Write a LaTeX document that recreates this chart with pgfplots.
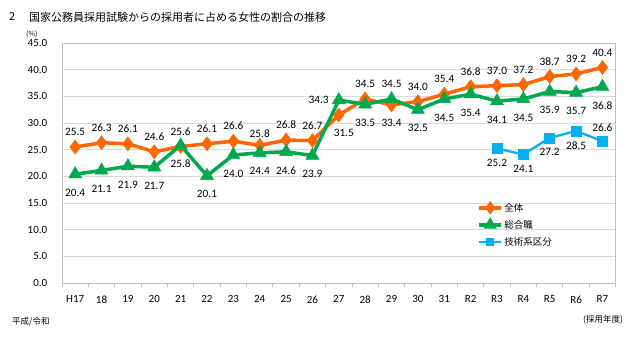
\documentclass[border=0pt]{standalone}
\usepackage{pgfplots}
\pgfplotsset{compat=1.18}
\usepackage{fontspec}
\setmainfont{Carlito}
\newfontfamily\jp{Noto Sans CJK JP}
\definecolor{cOr}{HTML}{FF6600}
\definecolor{cGr}{HTML}{00A84F}
\definecolor{cBl}{HTML}{00B0F0}
\definecolor{cGrid}{HTML}{D9D9D9}
\definecolor{cAx}{HTML}{BFBFBF}

\pgfplotsset{
  lab/.style n args={3}{forget plot, draw=none, mark=none,
    nodes near coords={\pgfmathprintnumber[fixed,fixed zerofill,precision=1,assume math mode=true]{\pgfplotspointmeta}},
    every node near coord/.append style={font=\fontsize{11.3}{13}\selectfont, text=black, inner sep=0pt, anchor=#1, xshift=#2, yshift=#3}},
}

\begin{document}
\begin{tikzpicture}[x=1pt,y=1pt]
\useasboundingbox (0,0) rectangle (640,352);
\node[anchor=west,font=\jp\fontsize{11}{13}\selectfont,inner sep=0] at (9,335) {2};
\node[anchor=west,font=\jp\fontsize{11}{13}\selectfont,inner sep=0] at (29,335) {国家公務員採用試験からの採用者に占める女性の割合の推移};
\node[anchor=west,font=\jp\fontsize{7}{8}\selectfont,inner sep=0] at (26,318) {(\%)};
\node[anchor=west,font=\jp\fontsize{8.5}{10}\selectfont,inner sep=0] at (12,30) {平成/令和};
\node[anchor=west,font=\jp\fontsize{8.5}{10}\selectfont,inner sep=0] at (583,32) {(採用年度)};
\begin{axis}[
  at={(62pt,69pt)}, anchor=south west,
  scale only axis, width=553.6pt, height=240pt,
  xmin=-0.5, xmax=20.5, ymin=0, ymax=45,
  xtick={0,...,20},
  xticklabels={H17,18,19,20,21,22,23,24,25,26,27,28,29,30,31,R2,R3,R4,R5,R6,R7},
  minor xtick={-0.5,0.5,...,20.5},
  major x tick style={draw=none},
  minor x tick style={cAx, line width=0.8pt},
  minor tick length=4pt,
  xtick pos=bottom, tick align=outside,
  ytick={0,5,...,45},
  ytick style={draw=none},
  ymajorgrids, grid style={cGrid, line width=0.9pt},
  axis line style={cAx, line width=0.9pt},
  /pgf/number format/assume math mode=true,
  yticklabel style={/pgf/number format/fixed, /pgf/number format/fixed zerofill, /pgf/number format/precision=1},
  yticklabel style={font=\fontsize{11}{12}\selectfont, xshift=-7pt},
  xticklabel style={font=\fontsize{11}{12}\selectfont, yshift=-5pt},
  clip=false,
  legend style={draw=none, fill=none, at={(0.750,0.340)}, anchor=north west,
    font=\jp\fontsize{9.5}{11}\selectfont, row sep=4.5pt, inner sep=0pt,
    nodes={inner sep=1.5pt}},
  legend cell align=left,
  legend image code/.code={
    \draw[#1, mark=none] (0pt,0pt) -- (22pt,0pt);
    \path[#1, mark options={scale=0.55}] plot coordinates {(11pt,0pt)};},
]
% 全体
\addplot[cOr, line width=3.5pt, mark=diamond*, mark size=7pt, mark options={solid, line width=0.5pt, fill=cOr}] coordinates {
(0,25.5) (1,26.3) (2,26.1) (3,24.6) (4,25.6) (5,26.1) (6,26.6) (7,25.8) (8,26.8) (9,26.7)
(10,31.5) (11,34.5) (12,33.4) (13,34.0) (14,35.4) (15,36.8) (16,37.0) (17,37.2) (18,38.7) (19,39.2) (20,40.4)};
\addlegendentry{全体}
% 総合職
\addplot[cGr, line width=3.5pt, mark=triangle*, mark size=7.5pt, mark options={solid, line width=0.5pt, fill=cGr}] coordinates {
(0,20.4) (1,21.1) (2,21.9) (3,21.7) (4,25.8) (5,20.1) (6,24.0) (7,24.4) (8,24.6) (9,23.9)
(10,34.3) (11,33.5) (12,34.5) (13,32.5) (14,34.5) (15,35.4) (16,34.1) (17,34.5) (18,35.9) (19,35.7) (20,36.8)};
\addlegendentry{総合職}
% 技術系区分
\addplot[cBl, line width=2.3pt, mark=square*, mark size=5pt, mark options={solid, line width=0.5pt, fill=cBl}] coordinates {
(16,25.2) (17,24.1) (18,27.2) (19,28.5) (20,26.6)};
\addlegendentry{技術系区分}

% labels: 全体
\addplot[lab={south}{0pt}{11pt}] coordinates {
(0,25.5) (1,26.3) (2,26.1) (3,24.6) (4,25.6) (5,26.1) (6,26.6) (8,26.8) (9,26.7)
(11,34.5) (13,34.0) (14,35.4) (15,36.8) (16,37.0) (17,37.2) (18,38.7) (19,39.2) (20,40.4)};
\addplot[lab={south}{0pt}{8pt}] coordinates {(7,25.8)};
\addplot[lab={north}{5pt}{-14pt}] coordinates {(10,31.5)};
\addplot[lab={north}{0pt}{-14pt}] coordinates {(12,33.4)};
% labels: 総合職
\addplot[lab={north}{0pt}{-14.5pt}] coordinates {
(0,20.4) (1,21.1) (2,21.9) (3,21.7) (4,25.8) (5,20.1) (6,24.0) (7,24.4) (8,24.6) (9,23.9)
(11,33.5) (13,32.5) (14,34.5) (15,35.4) (16,34.1) (17,34.5) (18,35.9) (19,35.7) (20,36.8)};
\addplot[lab={east}{-10pt}{0pt}] coordinates {(10,34.3)};
\addplot[lab={south}{0pt}{11pt}] coordinates {(12,34.5)};
% labels: 技術系区分
\addplot[lab={north}{0pt}{-10.5pt}] coordinates {(16,25.2) (17,24.1) (18,27.2) (19,28.5)};
\addplot[lab={south}{0pt}{9pt}] coordinates {(20,26.6)};
\end{axis}
\end{tikzpicture}
\end{document}
